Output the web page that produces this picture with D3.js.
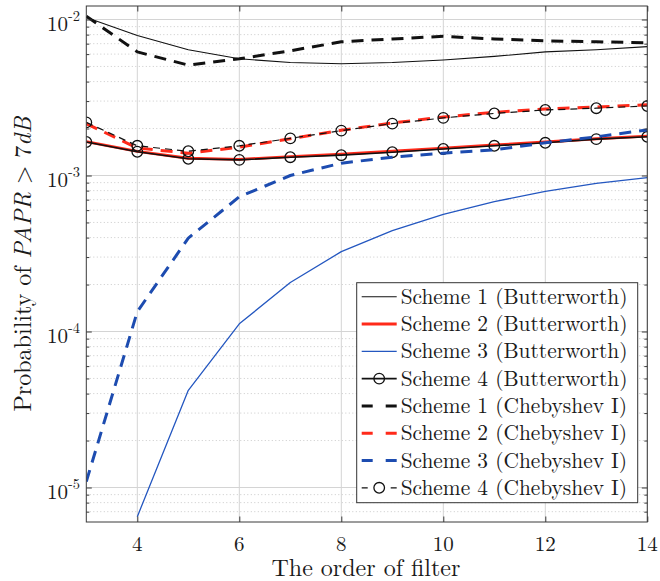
<!DOCTYPE html>
<html>
<head>
<meta charset="utf-8">
<script src="https://cdn.jsdelivr.net/npm/d3@7"></script>
<style>
  html, body { margin: 0; padding: 0; background: #fff; }
  svg { display: block; }
</style>
</head>
<body>
<svg id="chart" width="660" height="581"></svg>
<script>
// Filter order on the x axis
const orders = [3, 4, 5, 6, 7, 8, 9, 10, 11, 12, 13, 14];

// Probability of PAPR > 7 dB for each scheme / filter type
const bw1 = [0.0103, 0.0079, 0.0064, 0.0056, 0.0053, 0.0052, 0.0053, 0.0055, 0.0058, 0.0062, 0.0064, 0.0067];
const bw2 = [0.00165, 0.00143, 0.00129, 0.00127, 0.00132, 0.00137, 0.00143, 0.00150, 0.00157, 0.00164, 0.00172, 0.00179];
const bw3 = [null, 6.5e-6, 4.2e-5, 1.12e-4, 2.06e-4, 3.25e-4, 4.43e-4, 5.64e-4, 6.8e-4, 7.9e-4, 8.9e-4, 9.7e-4];
const bw4 = [0.00164, 0.00142, 0.00128, 0.00126, 0.00131, 0.00135, 0.00141, 0.00148, 0.00155, 0.00162, 0.00171, 0.00177];
const ch1 = [0.0105, 0.0062, 0.0051, 0.0056, 0.0063, 0.0072, 0.0075, 0.0078, 0.0075, 0.0073, 0.0072, 0.0071];
const ch2 = [0.00215, 0.00150, 0.00139, 0.00152, 0.00172, 0.00195, 0.00217, 0.00237, 0.00254, 0.00267, 0.00275, 0.00284];
const ch3 = [1.09e-5, 1.34e-4, 3.97e-4, 7.3e-4, 1.0e-3, 1.2e-3, 1.31e-3, 1.39e-3, 1.46e-3, 1.62e-3, 1.77e-3, 1.96e-3];
const ch4 = [0.00219, 0.00155, 0.00143, 0.00155, 0.00173, 0.00194, 0.00215, 0.00234, 0.00250, 0.00263, 0.00270, 0.00279];

// Tick labels
const xTicks = [4, 6, 8, 10, 12, 14];
const yExponents = [-5, -4, -3, -2];

const seriesNames = [
  "Scheme 1 (Butterworth)", "Scheme 2 (Butterworth)", "Scheme 3 (Butterworth)", "Scheme 4 (Butterworth)",
  "Scheme 1 (Chebyshev I)", "Scheme 2 (Chebyshev I)", "Scheme 3 (Chebyshev I)", "Scheme 4 (Chebyshev I)"
];
const seriesValues = [bw1, bw2, bw3, bw4, ch1, ch2, ch3, ch4];

// Line styles per series
const styles = [
  { color: "#111", width: 1.1, dash: null, marker: false },
  { color: "#ff2a1a", width: 2.8, dash: null, marker: false },
  { color: "#2457c0", width: 1.3, dash: null, marker: false },
  { color: "#111", width: 1.6, dash: null, marker: true },
  { color: "#111", width: 3, dash: "12,8", marker: false },
  { color: "#ff2a1a", width: 3, dash: "12,8", marker: false },
  { color: "#1d4cb0", width: 3, dash: "12,8", marker: false },
  { color: "#111", width: 1.2, dash: "7,5", marker: true }
];
const legendDash = ["", "", "", "", "11,13", "11,13", "11,13", "6,23,6"];

const FONT = "Latin Modern Roman";

const svg = d3.select("#chart");
const pL = 86.3, pR = 647.3, pT = 6, pB = 522;

const x = d3.scaleLinear().domain([3, 14]).range([pL, pR]);
// log axis: one decade spans 156 px, 1e-3 sits at y = 175.5
const y = d3.scaleLog()
  .domain([Math.pow(10, -3 - (pB - 175.5) / 156), Math.pow(10, -3 + (175.5 - pT) / 156)])
  .range([pB, pT]);

const [yMin, yMax] = y.domain();

// minor values per decade
const minorVals = [];
for (let e = -6; e <= -2; e++) {
  for (let m = 2; m <= 9; m++) {
    const v = m * Math.pow(10, e);
    if (v > yMin && v < yMax) minorVals.push(v);
  }
}
const majorVals = yExponents.map(e => Math.pow(10, e));

const grid = svg.append("g");
// minor grid (dotted)
grid.selectAll("line.minor").data(minorVals).join("line")
  .attr("x1", pL).attr("x2", pR)
  .attr("y1", d => y(d)).attr("y2", d => y(d))
  .attr("stroke", "#bdbdbd").attr("stroke-width", 0.8).attr("stroke-dasharray", "1,2.5");
// major grid
grid.selectAll("line.majy").data(majorVals).join("line")
  .attr("x1", pL).attr("x2", pR)
  .attr("y1", d => y(d)).attr("y2", d => y(d))
  .attr("stroke", "#d4d4d4").attr("stroke-width", 1);
grid.selectAll("line.majx").data(xTicks).join("line")
  .attr("x1", d => x(d)).attr("x2", d => x(d))
  .attr("y1", pT).attr("y2", pB)
  .attr("stroke", "#d4d4d4").attr("stroke-width", 1);

// plot clip
svg.append("clipPath").attr("id", "plotClip").append("rect")
  .attr("x", pL).attr("y", pT).attr("width", pR - pL).attr("height", pB - pT);

const plot = svg.append("g").attr("clip-path", "url(#plotClip)");

seriesValues.forEach((vals, i) => {
  const st = styles[i];
  const pts = orders.map((o, k) => ({ o, v: vals[k] }));
  const line = d3.line().defined(d => d.v != null).x(d => x(d.o)).y(d => y(d.v));
  plot.append("path")
    .datum(pts)
    .attr("d", line)
    .attr("fill", "none")
    .attr("stroke", st.color)
    .attr("stroke-width", st.width)
    .attr("stroke-linejoin", "round")
    .attr("stroke-dasharray", st.dash);
  if (st.marker) {
    plot.selectAll(null).data(pts.filter(d => d.v != null)).join("circle")
      .attr("cx", d => x(d.o)).attr("cy", d => y(d.v)).attr("r", 5.3)
      .attr("fill", "none").attr("stroke", "#111").attr("stroke-width", 1.3);
  }
});

// axes frame and ticks
const axisCol = "#3a3a3a";
const frame = svg.append("g");
frame.append("rect").attr("x", pL).attr("y", pT).attr("width", pR - pL).attr("height", pB - pT)
  .attr("fill", "none").attr("stroke", axisCol).attr("stroke-width", 1);

const bottomAxis = d3.axisBottom(x).tickValues(xTicks).tickSize(-5.5).tickFormat("");
const topAxis = d3.axisTop(x).tickValues(xTicks).tickSize(-5.5).tickFormat("");
frame.append("g").attr("transform", `translate(0,${pB})`).call(bottomAxis);
frame.append("g").attr("transform", `translate(0,${pT})`).call(topAxis);

const leftMajor = d3.axisLeft(y).tickValues(majorVals).tickSize(-5.5).tickFormat("");
const leftMinor = d3.axisLeft(y).tickValues(minorVals).tickSize(-3).tickFormat("");
const rightMajor = d3.axisRight(y).tickValues(majorVals).tickSize(-5.5).tickFormat("");
const rightMinor = d3.axisRight(y).tickValues(minorVals).tickSize(-3).tickFormat("");
[[leftMajor, pL], [leftMinor, pL], [rightMajor, pR], [rightMinor, pR]].forEach(([ax, px]) => {
  frame.append("g").attr("transform", `translate(${px},0)`).call(ax);
});
frame.selectAll(".domain").remove();
frame.selectAll(".tick line").attr("stroke", axisCol).attr("stroke-width", 1);

const textCol = "#1a1a1a";

// x tick labels
svg.append("g").selectAll("text").data(xTicks).join("text")
  .attr("x", d => x(d)).attr("y", 551)
  .attr("font-family", FONT).attr("fill", textCol)
  .attr("text-anchor", "middle").attr("font-size", 21)
  .text(d => d);

// y tick labels: 10 with superscript exponent
const yl = svg.append("g").selectAll("text").data(yExponents).join("text")
  .attr("x", 80).attr("y", d => y(Math.pow(10, d)) + 11)
  .attr("font-family", FONT).attr("fill", textCol)
  .attr("text-anchor", "end").attr("font-size", 21);
yl.append("tspan").text("10");
yl.append("tspan").attr("font-size", 14.5).attr("dy", -9.5).text(d => String(d));

// axis titles
svg.append("text").attr("x", 366).attr("y", 576).attr("text-anchor", "middle")
  .attr("font-family", FONT).attr("fill", textCol)
  .attr("font-size", 24).text("The order of filter");

const ylab = svg.append("text")
  .attr("transform", "translate(31,264) rotate(-90)")
  .attr("font-family", FONT).attr("fill", textCol)
  .attr("text-anchor", "middle").attr("font-size", 24);
ylab.append("tspan").text("Probability of ");
ylab.append("tspan").attr("font-style", "italic").text("PAPR");
ylab.append("tspan").text(" > 7");
ylab.append("tspan").attr("font-style", "italic").text("dB");

// legend
const lx = 356.7, ly = 282.7, lw = 281, lh = 220;
const leg = svg.append("g");
leg.append("rect").attr("x", lx).attr("y", ly).attr("width", lw).attr("height", lh)
  .attr("fill", "#fff").attr("stroke", "#333").attr("stroke-width", 1);
seriesNames.forEach((name, i) => {
  const st = styles[i];
  const cy = 296.7 + i * 27.3;
  const x0 = 361.7, x1 = 396.7;
  leg.append("line").attr("x1", x0).attr("x2", x1).attr("y1", cy).attr("y2", cy)
    .attr("stroke", st.color).attr("stroke-width", st.width)
    .attr("stroke-dasharray", legendDash[i] || null);
  if (st.marker) {
    leg.append("circle").attr("cx", (x0 + x1) / 2).attr("cy", cy).attr("r", 5.3)
      .attr("fill", "none").attr("stroke", "#111").attr("stroke-width", 1.3);
  }
  leg.append("text").attr("x", 400.7).attr("y", cy + 7)
    .attr("font-family", FONT).attr("fill", textCol).attr("font-size", 21.4).text(name);
});
</script>
</body>
</html>
